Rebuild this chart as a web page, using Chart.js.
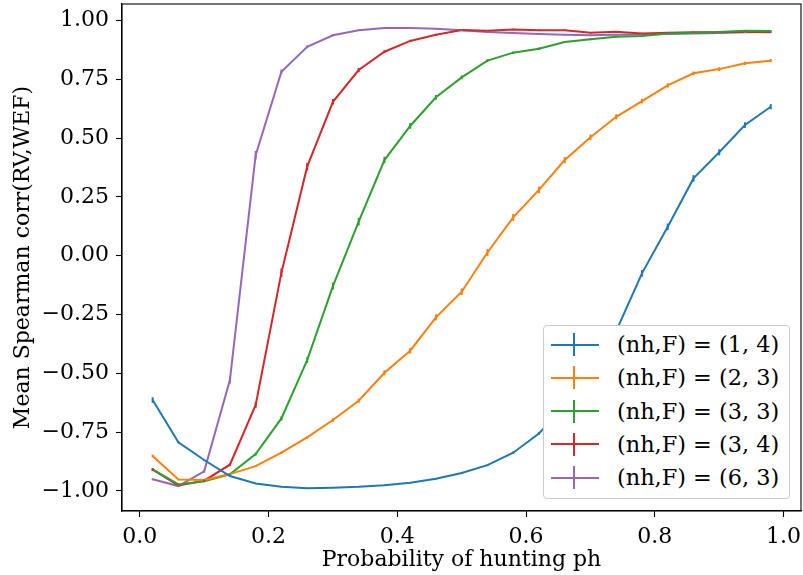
<!DOCTYPE html>
<html>
<head>
<meta charset="utf-8">
<script src="https://cdn.jsdelivr.net/npm/chart.js@4/dist/chart.umd.min.js"></script>
<style>
  html, body { margin: 0; padding: 0; background: #fff; }
  #wrap { position: relative; width: 803px; height: 575px; }
  #c { position: absolute; left: 0; top: 0; }
  #legend {
    position: absolute; left: 543px; top: 325px; width: 245px; height: 172px;
    border: 1px solid #cccccc; border-radius: 4px; background: #ffffff;
    font-family: "DejaVu Serif", serif; font-size: 22.4px; color: #000;
  }
  .row { position: absolute; left: 0; height: 33px; width: 100%; }
  .mk-h { position: absolute; left: 7px; width: 48px; height: 2px; top: 15.5px; }
  .mk-v { position: absolute; left: 29px; width: 2px; height: 23px; top: 5px; }
  .lbl { position: absolute; left: 73px; top: 0; line-height: 33px; white-space: nowrap; }
</style>
</head>
<body>
<div id="wrap">
  <canvas id="c" width="803" height="575"></canvas>
  <div id="legend"></div>
</div>
<script>
// ---- data ----
const probabilities = [0.02,0.06,0.10,0.14,0.18,0.22,0.26,0.30,0.34,0.38,0.42,0.46,0.50,0.54,0.58,0.62,0.66,0.70,0.74,0.78,0.82,0.86,0.90,0.94,0.98];

const seriesLabels = ["(nh,F) = (1, 4)", "(nh,F) = (2, 3)", "(nh,F) = (3, 3)", "(nh,F) = (3, 4)", "(nh,F) = (6, 3)"];

const corr_1_4 = [-0.614,-0.794,-0.869,-0.937,-0.969,-0.983,-0.989,-0.987,-0.983,-0.976,-0.966,-0.949,-0.924,-0.891,-0.838,-0.756,-0.640,-0.500,-0.320,-0.075,0.123,0.329,0.440,0.556,0.634];
const corr_2_3 = [-0.852,-0.952,-0.954,-0.929,-0.895,-0.838,-0.773,-0.699,-0.617,-0.498,-0.404,-0.262,-0.153,0.014,0.163,0.280,0.407,0.504,0.591,0.658,0.725,0.776,0.794,0.819,0.830];
const corr_3_3 = [-0.909,-0.973,-0.960,-0.930,-0.844,-0.692,-0.444,-0.129,0.145,0.407,0.552,0.674,0.759,0.830,0.864,0.881,0.909,0.921,0.932,0.935,0.946,0.949,0.952,0.957,0.956];
const corr_3_4 = [-0.910,-0.977,-0.957,-0.889,-0.635,-0.072,0.379,0.655,0.790,0.868,0.914,0.940,0.960,0.957,0.963,0.959,0.959,0.949,0.953,0.946,0.949,0.951,0.951,0.953,0.951];
const corr_6_3 = [-0.951,-0.980,-0.917,-0.529,0.428,0.783,0.889,0.938,0.959,0.969,0.969,0.966,0.959,0.952,0.948,0.943,0.940,0.938,0.940,0.942,0.943,0.946,0.948,0.951,0.952];

const err_1_4 = [0.012,0.004,0.003,0.002,0.002,0.002,0.002,0.002,0.002,0.002,0.002,0.003,0.003,0.004,0.005,0.006,0.008,0.010,0.012,0.014,0.014,0.014,0.013,0.012,0.011];
const err_2_3 = [0.006,0.003,0.003,0.003,0.004,0.005,0.006,0.008,0.009,0.011,0.012,0.013,0.014,0.015,0.015,0.014,0.013,0.012,0.011,0.010,0.009,0.008,0.008,0.007,0.007];
const err_3_3 = [0.006,0.003,0.003,0.004,0.006,0.009,0.012,0.015,0.016,0.014,0.012,0.010,0.008,0.006,0.005,0.005,0.004,0.004,0.003,0.003,0.003,0.003,0.003,0.003,0.003];
const err_3_4 = [0.006,0.003,0.004,0.006,0.012,0.018,0.016,0.012,0.009,0.006,0.005,0.004,0.003,0.003,0.003,0.003,0.003,0.003,0.003,0.003,0.003,0.003,0.003,0.003,0.003];
const err_6_3 = [0.004,0.003,0.006,0.015,0.018,0.010,0.006,0.004,0.003,0.003,0.003,0.003,0.003,0.003,0.003,0.003,0.003,0.003,0.003,0.003,0.003,0.003,0.003,0.003,0.003];

const xTickValues = [0.0,0.2,0.4,0.6,0.8,1.0];
const yTickValues = [-1.00,-0.75,-0.50,-0.25,0.00,0.25,0.50,0.75,1.00];

const colors = ["#1f77b4","#ff7f0e","#2ca02c","#d62728","#9467bd"];
const seriesValues = [corr_1_4, corr_2_3, corr_3_3, corr_3_4, corr_6_3];
const seriesErrors = [err_1_4, err_2_3, err_3_3, err_3_4, err_6_3];

const FONT = "'DejaVu Serif', serif";

const datasets = seriesValues.map((vals, i) => ({
  label: seriesLabels[i],
  data: vals.map((v, j) => ({ x: probabilities[j], y: v })),
  errors: seriesErrors[i],
  borderColor: colors[i],
  backgroundColor: colors[i],
  borderWidth: 2,
  pointRadius: 0,
  tension: 0,
  fill: false
}));

const fmtMinus = s => s.replace('-', '\u2212');

const errorBarsPlugin = {
  id: 'errorBars',
  afterDatasetsDraw(chart) {
    const ctx = chart.ctx;
    const ys = chart.scales.y, xs = chart.scales.x;
    ctx.save();
    chart.data.datasets.forEach(ds => {
      ctx.strokeStyle = ds.borderColor;
      ctx.lineWidth = 2;
      ds.data.forEach((p, j) => {
        const e = ds.errors[j];
        const px = xs.getPixelForValue(p.x);
        ctx.beginPath();
        ctx.moveTo(px, ys.getPixelForValue(p.y - e));
        ctx.lineTo(px, ys.getPixelForValue(p.y + e));
        ctx.stroke();
      });
    });
    ctx.restore();
  }
};

const framePlugin = {
  id: 'frame',
  afterDraw(chart) {
    const a = chart.chartArea, ctx = chart.ctx;
    ctx.save();
    ctx.strokeStyle = '#000';
    ctx.lineWidth = 1.1;
    ctx.strokeRect(a.left, a.top, a.right - a.left, a.bottom - a.top);
    ctx.restore();
  }
};

new Chart(document.getElementById('c'), {
  type: 'line',
  data: { datasets },
  plugins: [errorBarsPlugin, framePlugin],
  options: {
    responsive: false,
    animation: false,
    layout: { padding: { top: 4, right: 2, left: 0, bottom: 0 } },
    plugins: { legend: { display: false }, tooltip: { enabled: false } },
    scales: {
      x: {
        type: 'linear',
        min: -0.0276, max: 1.027,
        afterBuildTicks: s => { s.ticks = xTickValues.map(v => ({ value: v })); },
        afterFit: s => { s.height = 64; s.paddingLeft = 0; s.paddingRight = 0; },
        ticks: {
          callback: v => v.toFixed(1),
          font: { family: FONT, size: 22 }, color: '#000', padding: 7, maxRotation: 0
        },
        grid: { drawOnChartArea: false, drawTicks: true, tickLength: 6, tickColor: '#000', tickWidth: 1.1 },
        border: { display: true, color: '#000', width: 1.1 },
        title: { display: true, text: 'Probability of hunting ph', font: { family: FONT, size: 22 }, color: '#000', padding: { top: 0, bottom: 2 } }
      },
      y: {
        type: 'linear',
        min: -1.086, max: 1.071,
        afterBuildTicks: s => { s.ticks = yTickValues.map(v => ({ value: v })); },
        afterFit: s => { s.width = 122; s.paddingTop = 0; s.paddingBottom = 0; },
        ticks: {
          callback: v => fmtMinus(v.toFixed(2)),
          font: { family: FONT, size: 22 }, color: '#000', padding: 7
        },
        grid: { drawOnChartArea: false, drawTicks: true, tickLength: 6, tickColor: '#000', tickWidth: 1.1 },
        border: { display: true, color: '#000', width: 1.1 },
        title: { display: true, text: 'Mean Spearman corr(RV,WEF)', font: { family: FONT, size: 22 }, color: '#000', padding: { top: 10, bottom: 0 } }
      }
    }
  }
});

// HTML legend built from the same arrays
const lg = document.getElementById('legend');
seriesLabels.forEach((lab, i) => {
  const r = document.createElement('div');
  r.className = 'row';
  r.style.top = (2 + i * 33.3) + 'px';
  r.innerHTML = '<div class="mk-h" style="background:' + colors[i] + '"></div>' +
                '<div class="mk-v" style="background:' + colors[i] + '"></div>' +
                '<div class="lbl"></div>';
  r.querySelector('.lbl').textContent = lab;
  lg.appendChild(r);
});
</script>
</body>
</html>
